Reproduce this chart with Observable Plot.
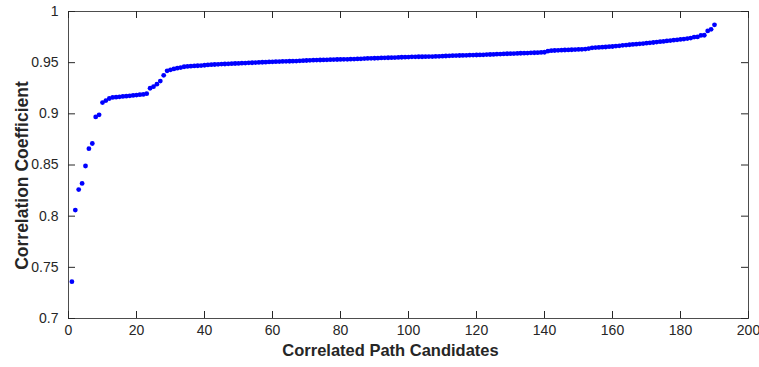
<!DOCTYPE html>
<html>
<head>
<meta charset="utf-8">
<script src="https://cdn.jsdelivr.net/npm/d3@7"></script>
<script src="https://cdn.jsdelivr.net/npm/@observablehq/plot@0.6"></script>
<style>
  html, body { margin: 0; padding: 0; background: #fff; }
  #chart svg { display: block; }
</style>
</head>
<body>
<div id="chart"></div>
<script>
// Correlation coefficients of the 190 correlated path candidates (sorted)
const correlation = [
  0.736, 0.806, 0.826, 0.832, 0.849, 0.866, 0.871, 0.897, 0.899, 0.911,
  0.913, 0.915, 0.916, 0.9163, 0.9166, 0.9170, 0.9173, 0.9176, 0.9180, 0.9183,
  0.9187, 0.9190, 0.9197, 0.925, 0.9265, 0.929, 0.932, 0.9376, 0.942, 0.9430,
  0.9439, 0.9446, 0.9452, 0.9460, 0.9463, 0.9466, 0.9468, 0.9470, 0.9472, 0.9475,
  0.9478, 0.9480, 0.9482, 0.9484, 0.9486, 0.9487, 0.9489, 0.9490, 0.9492, 0.9493,
  0.9495, 0.9496, 0.9498, 0.9499, 0.9501, 0.9502, 0.9504, 0.9505, 0.9507, 0.9508,
  0.9510, 0.9511, 0.9512, 0.9513, 0.9514, 0.9515, 0.9516, 0.9518, 0.9519, 0.9521,
  0.9523, 0.9524, 0.9525, 0.9526, 0.9527, 0.9528, 0.9529, 0.9530, 0.9531, 0.9532,
  0.9533, 0.9533, 0.9534, 0.9535, 0.9537, 0.9538, 0.9540, 0.9541, 0.9542, 0.9543,
  0.9544, 0.9546, 0.9547, 0.9548, 0.9549, 0.9550, 0.9551, 0.9553, 0.9554, 0.9555,
  0.9557, 0.9557, 0.9558, 0.9558, 0.9559, 0.9560, 0.9560, 0.9561, 0.9562, 0.9563,
  0.9565, 0.9567, 0.9568, 0.9569, 0.9570, 0.9571, 0.9572, 0.9573, 0.9574, 0.9575,
  0.9576, 0.9577, 0.9579, 0.9580, 0.9581, 0.9583, 0.9584, 0.9585, 0.9587, 0.9588,
  0.9589, 0.9590, 0.9592, 0.9593, 0.9594, 0.9596, 0.9597, 0.9598, 0.9600, 0.9602,
  0.9612, 0.9617, 0.9619, 0.9621, 0.9622, 0.9624, 0.9625, 0.9626, 0.9628, 0.9629,
  0.9630, 0.9633, 0.9638, 0.9645, 0.9647, 0.9649, 0.9651, 0.9653, 0.9656, 0.9658,
  0.9662, 0.9665, 0.9669, 0.9672, 0.9675, 0.9678, 0.9681, 0.9684, 0.9687, 0.9690,
  0.9694, 0.9697, 0.9701, 0.9705, 0.9708, 0.9712, 0.9716, 0.9720, 0.9723, 0.9727,
  0.9731, 0.9735, 0.9740, 0.9750, 0.9752, 0.9766, 0.9768, 0.981, 0.9826, 0.987
];
const candidateIndex = correlation.map((_, i) => i + 1);

const xTicks = [0, 20, 40, 60, 80, 100, 120, 140, 160, 180, 200];
const xTickLabels = ["0", "20", "40", "60", "80", "100", "120", "140", "160", "180", "200"];
const yTicks = [0.7, 0.75, 0.8, 0.85, 0.9, 0.95, 1];
const yTickLabels = ["0.7", "0.75", "0.8", "0.85", "0.9", "0.95", "1"];
const xTitle = "Correlated Path Candidates";
const yTitle = "Correlation Coefficient";

const points = candidateIndex.map((x, i) => ({x, y: correlation[i]}));
const ink = "#262626";

const chart = Plot.plot({
  width: 759,
  height: 367,
  marginLeft: 68,
  marginRight: 11,
  marginTop: 11,
  marginBottom: 49,
  x: {domain: [0, 200]},
  y: {domain: [0.7, 1]},
  style: {fontFamily: "'Liberation Sans', Arial, sans-serif", fontSize: "14px", color: ink, background: "white"},
  marks: [
    Plot.frame({stroke: "#4d4d4d", strokeWidth: 1}),
    // inward ticks on all four sides (MATLAB box style)
    Plot.tickX(xTicks, {x: d => d, insetTop: 300, stroke: ink}),
    Plot.tickX(xTicks, {x: d => d, insetBottom: 300, stroke: ink}),
    Plot.tickY(yTicks, {y: d => d, insetRight: 673, stroke: ink}),
    Plot.tickY(yTicks, {y: d => d, insetLeft: 673, stroke: ink}),
    Plot.axisX({ticks: xTicks, tickSize: 0, tickPadding: 7, label: null, fontSize: 14,
      tickFormat: d => xTickLabels[xTicks.indexOf(d)]}),
    Plot.axisY({ticks: yTicks, tickSize: 0, tickPadding: 10, label: null, fontSize: 14,
      tickFormat: d => yTickLabels[yTicks.findIndex(t => Math.abs(t - d) < 1e-9)]}),
    Plot.text([xTitle], {text: d => d, frameAnchor: "bottom", dx: -18, dy: 37, textAnchor: "middle",
      fontWeight: "bold", fontSize: 16.5, fill: ink}),
    Plot.text([yTitle], {text: d => d, frameAnchor: "left", dx: -46, dy: 10.5, rotate: -90, textAnchor: "middle",
      fontWeight: "bold", fontSize: 17.5, fill: ink}),
    Plot.dot(points, {x: "x", y: "y", r: 2.4, fill: "#0000ff", stroke: "none"})
  ]
});
document.getElementById("chart").appendChild(chart);
</script>
</body>
</html>
